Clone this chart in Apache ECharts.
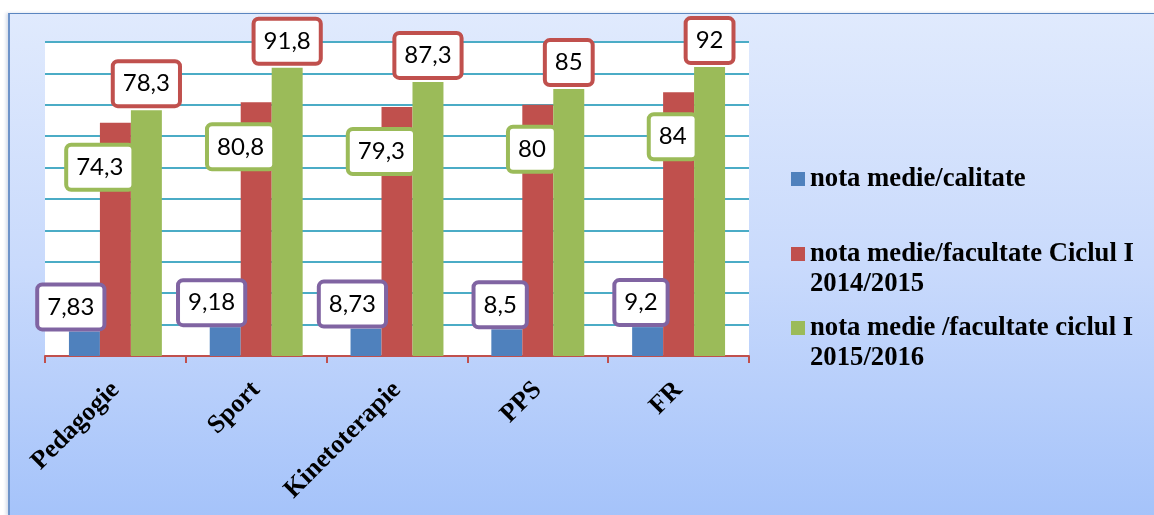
<!DOCTYPE html>
<html>
<head>
<meta charset="utf-8">
<script src="https://cdn.jsdelivr.net/npm/echarts@6/dist/echarts.min.js"></script>
<style>
  html, body { margin: 0; padding: 0; background: #ffffff; width: 1154px; height: 515px; overflow: hidden; }
  #panel { position: absolute; left: 8px; top: 13px; width: 1146px; height: 502px;
    background: linear-gradient(to bottom, #e0eafd 0%, #c9dafc 50%, #a5c3fa 100%);
    border-top: 1px solid #5b86c0; border-left: 2px solid #6d93c9; box-shadow: -2px 0 3px rgba(90,120,170,0.25); }
  #chart { position: absolute; left: 0; top: 0; width: 1154px; height: 515px; }
</style>
</head>
<body>
<div id="panel"></div>
<div id="chart"></div>
<script>
const categories = ['Pedagogie', 'Sport', 'Kinetoterapie', 'PPS', 'FR'];
const seriesNames = [
  'nota medie/calitate',
  'nota medie/facultate Ciclul I 2014/2015',
  'nota medie /facultate ciclul I 2015/2016'
];
const calitate = [7.83, 9.18, 8.73, 8.5, 9.2];
const ciclu2014 = [74.3, 80.8, 79.3, 80, 84];
const ciclu2015 = [78.3, 91.8, 87.3, 85, 92];

const colors = ['#4f81bd', '#c0504d', '#9bbb59'];
const fmt = p => String(p.value).replace('.', ',');

function boxLabel(borderColor, extra) {
  return Object.assign({
    show: true,
    formatter: fmt,
    fontFamily: 'Lato',
    fontSize: 24,
    lineHeight: 29,
    color: '#000',
    backgroundColor: '#ffffff',
    borderColor: borderColor,
    borderWidth: 4,
    borderRadius: 3,
    padding: [6, 8, 6, 8]
  }, extra);
}

const legendText = {
  fontFamily: 'Liberation Serif',
  fontWeight: 'bold',
  fontSize: 26.7,
  lineHeight: 30,
  color: '#000'
};
function wrapName(n) {
  return '\n' + n.replace(/ (\d{4}\/\d{4})$/, '\n$1');
}

const chart = echarts.init(document.getElementById('chart'));
chart.setOption({
  animation: false,
  backgroundColor: 'transparent',
  grid: { left: 45, right: 405, top: 42, bottom: 159, show: true, backgroundColor: '#ffffff', borderWidth: 0 },
  legend: [
    { data: [seriesNames[0]], orient: 'vertical', left: 791, top: 164, padding: 0,
      icon: 'rect', itemWidth: 14, itemHeight: 14, textStyle: legendText },
    { data: [seriesNames[1]], orient: 'vertical', left: 791, top: 209, padding: 0,
      icon: 'rect', itemWidth: 14, itemHeight: 14, textStyle: legendText, formatter: wrapName },
    { data: [seriesNames[2]], orient: 'vertical', left: 791, top: 283, padding: 0,
      icon: 'rect', itemWidth: 14, itemHeight: 14, textStyle: legendText, formatter: wrapName }
  ],
  xAxis: {
    type: 'category',
    data: categories,
    axisLine: { lineStyle: { color: '#c0504d', width: 2 } },
    axisTick: { show: true, length: 7, lineStyle: { color: '#c0504d', width: 2 } },
    axisLabel: {
      rotate: 45,
      margin: 30,
      fontFamily: 'Liberation Serif',
      fontWeight: 'bold',
      fontSize: 26,
      color: '#000'
    }
  },
  yAxis: {
    type: 'value',
    min: 0,
    max: 100,
    interval: 10,
    axisLabel: { show: false },
    axisLine: { show: false },
    axisTick: { show: false },
    splitLine: { lineStyle: { color: '#4bacc6', width: 2 } }
  },
  series: [
    {
      name: seriesNames[0], type: 'bar', data: calitate, barGap: '0%', barCategoryGap: '34%',
      itemStyle: { color: colors[0] },
      label: boxLabel('#8064a2', { position: 'top', distance: 4, align: 'right', offset: [18, 0] })
    },
    {
      name: seriesNames[1], type: 'bar', data: ciclu2014, barGap: '0%', barCategoryGap: '34%',
      itemStyle: { color: colors[1] },
      label: boxLabel('#9bbb59', { position: 'insideTop', distance: 24, align: 'right', offset: [16, 0] })
    },
    {
      name: seriesNames[2], type: 'bar', data: ciclu2015, barGap: '0%', barCategoryGap: '34%',
      itemStyle: { color: colors[2] },
      label: boxLabel('#c0504d', { position: 'top', distance: 6 })
    }
  ]
});
</script>
</body>
</html>
